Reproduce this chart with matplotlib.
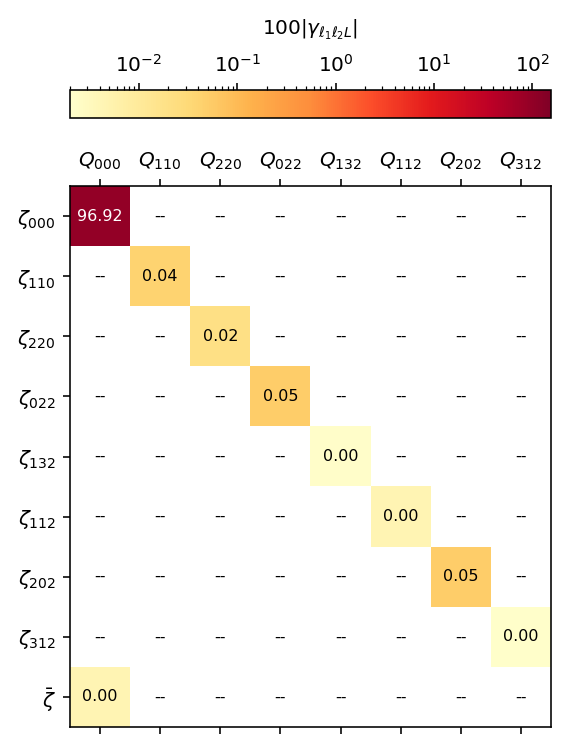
import numpy as np
import matplotlib
matplotlib.use("Agg")
import matplotlib.pyplot as plt
from matplotlib.colors import LogNorm

# 100*|gamma| per (zeta row, Q column); masked cells are shown as "--"
cols = [r"$Q_{000}$", r"$Q_{110}$", r"$Q_{220}$", r"$Q_{022}$",
        r"$Q_{132}$", r"$Q_{112}$", r"$Q_{202}$", r"$Q_{312}$"]
rows = [r"$\zeta_{000}$", r"$\zeta_{110}$", r"$\zeta_{220}$", r"$\zeta_{022}$",
        r"$\zeta_{132}$", r"$\zeta_{112}$", r"$\zeta_{202}$", r"$\zeta_{312}$",
        r"$\bar{\zeta}$"]
diag_vals = [96.92, 0.04, 0.02, 0.05, 0.0022, 0.0045, 0.05, 0.0021]
zbar_val = 0.0045

data = np.full((len(rows), len(cols)), np.nan)
for i, v in enumerate(diag_vals):
    data[i, i] = v
data[8, 0] = zbar_val
mdata = np.ma.masked_invalid(data)

W, H, DPI = 566, 749, 144
fig = plt.figure(figsize=(W/DPI, H/DPI), dpi=DPI)
ax = fig.add_axes([70/W, 1-727/H, 481/W, 541/H])
cax = fig.add_axes([70/W, 1-118/H, 481/W, 28/H])

norm = LogNorm(vmin=2e-3, vmax=155)
im = ax.imshow(mdata, cmap="YlOrRd", norm=norm, aspect="auto")

for i in range(len(rows)):
    for j in range(len(cols)):
        v = mdata[i, j]
        if v is np.ma.masked:
            ax.text(j, i, "--", ha="center", va="center", fontsize=8, color="black")
        else:
            c = "white" if v > 10 else "black"
            ax.text(j, i, "%.2f" % v, ha="center", va="center", fontsize=8, color=c)

ax.set_xticks(np.arange(len(cols)))
ax.set_xticklabels(cols)
ax.set_yticks(np.arange(len(rows)))
ax.set_yticklabels(rows)
ax.tick_params(axis="x", top=True, bottom=True, labeltop=True, labelbottom=False)

cb = fig.colorbar(im, cax=cax, orientation="horizontal")
cax.xaxis.set_ticks_position("top")
cax.xaxis.set_label_position("top")
cb.set_label(r"$100|\gamma_{\ell_1\ell_2L}|$", labelpad=10)

plt.savefig("out.png", dpi=DPI)
